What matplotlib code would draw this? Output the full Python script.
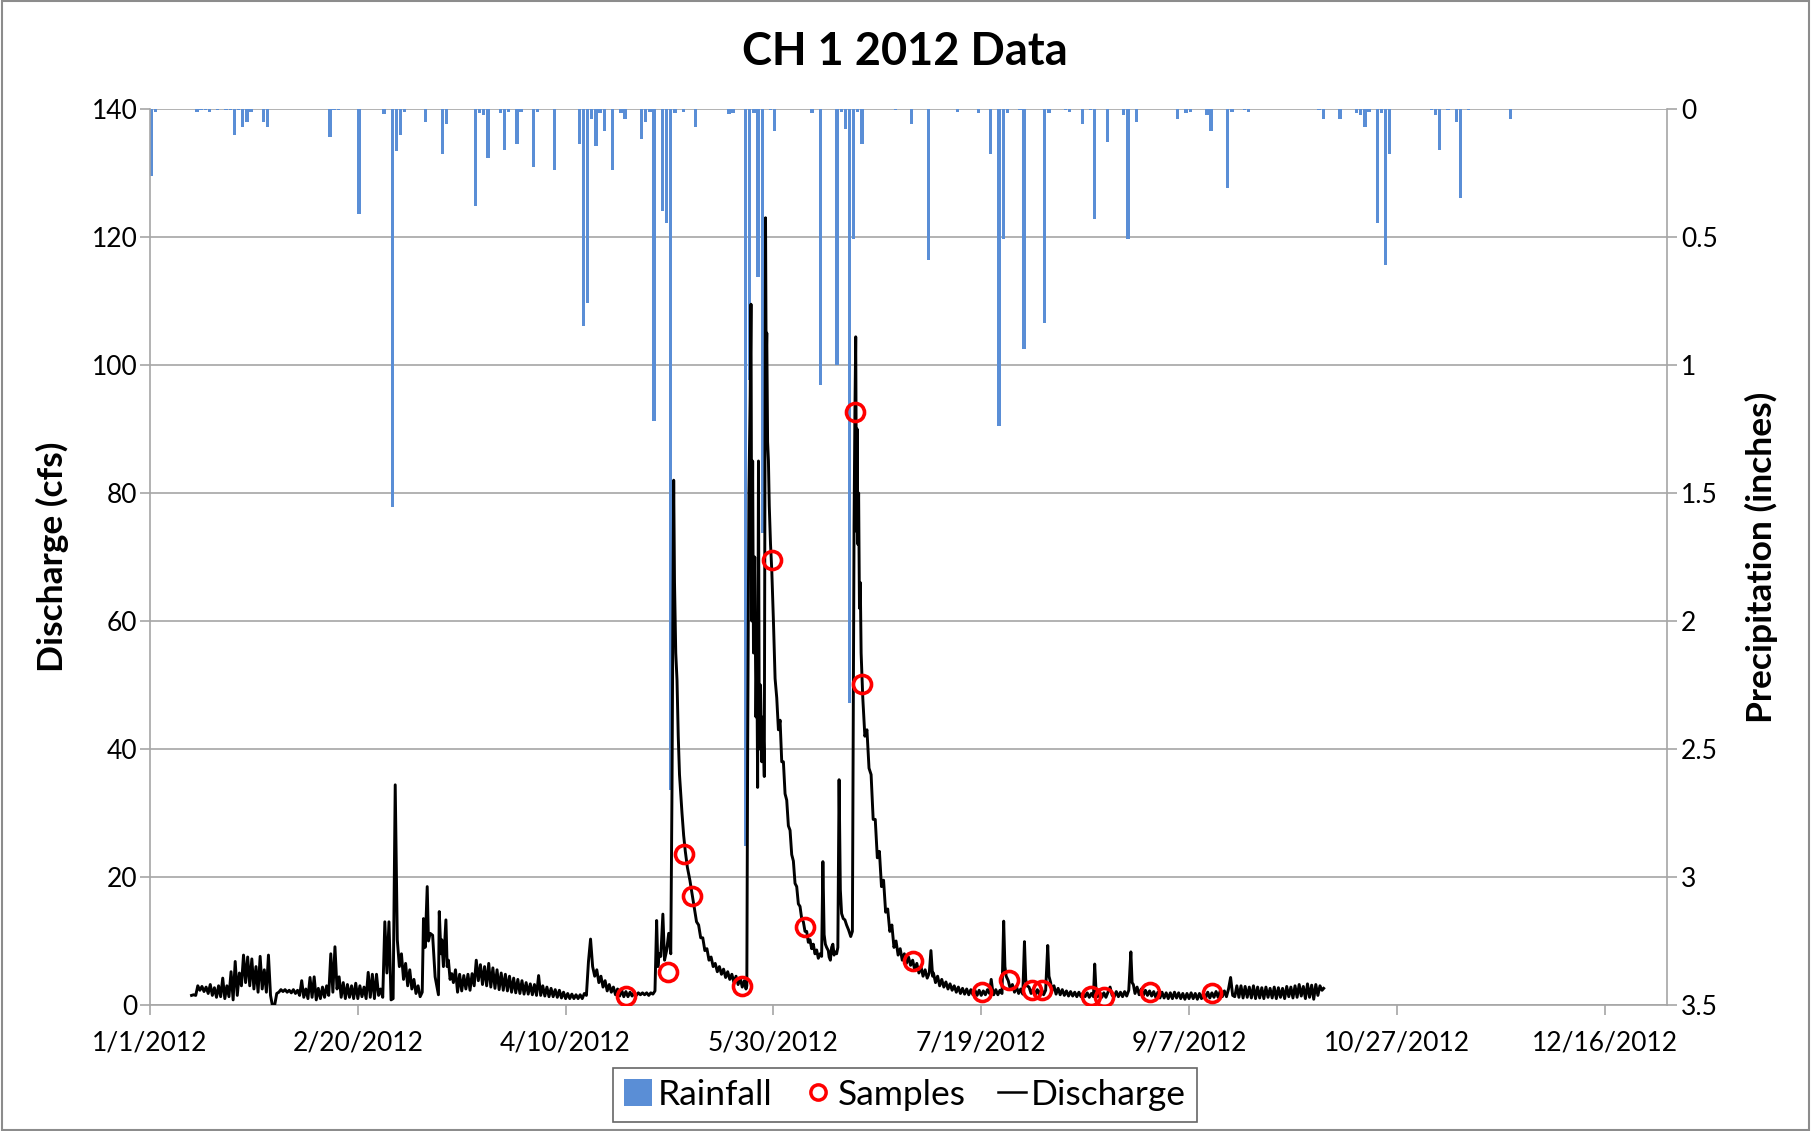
import datetime as dt
import matplotlib
matplotlib.use("Agg")
import matplotlib.pyplot as plt
from matplotlib.patches import Rectangle, Patch
from matplotlib.lines import Line2D

plt.rcParams['font.family'] = ['Lato', 'DejaVu Sans']

# ---------------- data (day 0 = 1/1/2012) ----------------
rain_day = [0, 1, 11, 12, 13, 14, 16, 18, 19, 20, 21, 22, 23, 24, 27, 28, 43, 44, 45, 50,
            56, 58, 59, 60, 61, 66, 70, 71, 78, 79, 80, 81, 84, 85, 86, 88, 89, 92, 93, 97,
            103, 104, 105, 106, 107, 108, 109, 111, 113, 114, 118, 119, 120, 121, 123, 124, 125, 126, 128, 131,
            139, 140, 143, 144, 145, 146, 147, 149, 150, 159, 161, 165, 166, 167, 168, 169, 170, 171, 179, 183,
            187, 194, 199, 202, 204, 205, 206, 209, 210, 215, 216, 220, 221, 224, 226, 227, 230, 234, 235, 237,
            247, 249, 250, 254, 255, 259, 260, 263, 264, 281, 282, 286, 290, 291, 292, 293, 295, 296, 297, 298,
            308, 309, 310, 312, 314, 315, 317, 327]
rain_in = [0.26, 0.01, 0.01, 0.005, 0.005, 0.01, 0.005, 0.005, 0.005, 0.10, 0.005, 0.07, 0.05, 0.01, 0.05, 0.07, 0.11, 0.005, 0.005, 0.41,
           0.02, 1.555, 0.166, 0.10, 0.01, 0.05, 0.176, 0.06, 0.378, 0.015, 0.025, 0.19, 0.015, 0.16, 0.01, 0.137, 0.01, 0.227, 0.01, 0.237,
           0.137, 0.846, 0.758, 0.04, 0.146, 0.015, 0.087, 0.237, 0.015, 0.04, 0.116, 0.05, 0.01, 1.218, 0.40, 0.445, 2.66, 0.015, 0.01, 0.07,
           0.02, 0.015, 2.88, 1.057, 0.015, 0.656, 1.656, 0.005, 0.087, 0.015, 1.077, 1.0, 0.01, 0.078, 2.32, 0.507, 0.01, 0.137, 0.005, 0.057,
           0.589, 0.01, 0.015, 0.176, 1.24, 0.507, 0.015, 0.005, 0.9375, 0.836, 0.015, 0.005, 0.01, 0.057, 0.005, 0.428, 0.129, 0.025, 0.507, 0.05,
           0.04, 0.015, 0.01, 0.025, 0.087, 0.309, 0.01, 0.005, 0.01, 0.005, 0.04, 0.04, 0.015, 0.025, 0.07, 0.01, 0.445, 0.015, 0.608, 0.176,
           0.005, 0.025, 0.16, 0.005, 0.05, 0.348, 0.005, 0.04]

discharge_jan_feb = [
    (10.0, 1.5), (10.5, 1.6), (11.0, 1.5), (11.5, 3.0), (12.0, 2.3), (12.5, 2.9), (13.0, 2.1), (13.5, 2.8),
    (14.0, 1.8), (14.5, 3.2), (15.0, 1.5), (15.5, 2.7), (16.0, 1.2), (16.5, 3.0), (17.0, 1.3), (17.5, 4.2),
    (18.0, 1.0), (18.5, 3.0), (19.0, 1.3), (19.5, 5.2), (20.0, 0.8), (20.5, 6.8), (21.0, 1.5), (21.5, 5.0),
    (22.0, 3.0), (22.5, 7.8), (23.0, 3.5), (23.5, 7.5), (24.0, 3.0), (24.5, 7.2), (25.0, 2.5), (25.5, 6.0),
    (26.0, 2.0), (26.5, 7.6), (27.0, 2.5), (27.5, 5.5), (28.0, 2.0), (28.5, 7.8), (29.0, 1.5), (29.4, 0.1),
    (30.0, 0.0), (30.5, 1.8), (31.0, 2.0), (31.5, 2.4), (32.0, 2.1), (32.5, 2.4), (33.0, 2.0), (33.5, 2.3),
    (34.0, 1.9), (34.5, 2.4), (35.0, 1.8), (35.5, 2.3), (36.0, 1.5), (36.5, 3.8), (37.0, 1.2), (37.5, 2.5),
    (38.0, 1.0), (38.5, 4.3), (39.0, 1.2), (39.5, 4.4), (40.0, 0.8), (40.5, 2.6), (41.0, 1.0), (41.5, 2.8),
    (42.0, 1.2), (42.5, 3.0), (43.0, 1.5), (43.5, 8.0), (44.0, 2.0), (44.5, 9.1), (45.0, 2.5), (45.5, 4.4),
    (46.0, 1.2), (46.5, 3.5), (47.0, 1.0), (47.5, 3.2), (48.0, 1.2), (48.5, 3.0), (49.0, 1.0), (49.5, 3.4),
    (50.0, 1.0), (50.5, 3.0), (51.0, 1.3), (51.5, 2.8), (52.0, 1.0), (52.5, 5.1), (53.0, 1.2), (53.5, 4.8),
    (54.0, 1.0), (54.5, 4.8), (55.0, 1.5), (55.5, 2.5), (56.0, 1.2), (56.5, 13.0), (57.0, 5.0), (57.5, 13.0),
    (58.0, 0.8), (58.5, 1.0), (59.0, 34.4), (59.5, 10.2),
]

discharge_mar_apr = [
    (60.0, 6.0), (60.5, 8.0), (61.0, 4.0), (61.5, 6.5), (62.0, 3.0), (62.5, 5.5), (63.0, 2.5), (63.5, 4.0),
    (64.0, 1.8), (64.5, 3.0), (65.0, 1.3), (65.5, 2.0), (65.8, 13.5), (66.2, 9.0), (66.7, 18.5), (67.0, 10.0),
    (67.4, 11.2), (68.0, 10.9), (68.6, 4.4), (69.4, 1.6), (69.6, 14.6), (70.0, 8.0), (70.2, 10.2), (70.6, 6.0),
    (71.2, 13.3), (71.5, 6.0), (71.8, 7.0), (72.2, 4.0), (72.6, 4.9), (73.0, 3.5), (73.5, 5.5), (74.0, 2.0),
    (74.5, 4.8), (75.0, 2.2), (75.5, 4.6), (76.0, 2.5), (76.5, 4.8), (77.0, 2.3), (77.5, 4.9), (78.0, 3.0),
    (78.5, 7.0), (79.0, 3.8), (79.5, 6.3), (80.0, 3.2), (80.5, 6.0), (81.0, 3.0), (81.5, 6.5), (82.0, 2.8),
    (82.5, 5.8), (83.0, 2.6), (83.5, 5.5), (84.0, 2.4), (84.5, 5.0), (85.0, 2.3), (85.5, 4.8), (86.0, 2.2),
    (86.5, 4.5), (87.0, 2.0), (87.5, 4.2), (88.0, 1.9), (88.5, 4.0), (89.0, 1.8), (89.5, 3.8), (90.0, 1.7),
    (90.5, 3.5), (91.0, 1.7), (91.5, 3.3), (92.0, 1.6), (92.5, 3.2), (93.0, 1.5), (93.5, 4.6), (94.0, 1.5),
    (94.5, 3.0), (95.0, 1.4), (95.5, 2.8), (96.0, 1.3), (96.5, 2.6), (97.0, 1.3), (97.5, 2.4), (98.0, 1.2),
    (98.5, 2.3), (99.0, 1.1), (99.5, 2.0), (100.0, 1.0), (100.5, 1.8), (101.0, 1.0), (101.5, 1.7), (102.0, 1.0),
    (102.5, 1.6), (103.0, 1.0), (103.5, 1.6), (104.0, 1.0), (104.5, 1.8), (105.0, 1.5), (105.5, 6.8), (106.0, 10.3),
    (106.5, 6.0), (107.0, 4.5), (107.5, 5.5), (108.0, 3.5), (108.5, 4.5), (109.0, 2.8), (109.5, 3.8), (110.0, 2.2),
    (110.5, 3.2), (111.0, 2.0), (111.5, 2.8), (112.0, 1.6), (112.5, 2.5), (113.0, 1.4), (113.5, 2.3), (114.0, 1.3),
    (114.5, 2.1), (115.0, 1.3), (115.5, 2.0), (116.0, 1.4), (116.5, 2.0), (117.0, 1.5), (117.5, 1.9), (118.0, 1.6),
    (118.5, 1.9), (119.0, 1.6), (119.5, 1.9), (120.0, 1.5), (120.5, 1.9),
]

discharge_may_jun = [
    (121.0, 1.7), (121.5, 2.2), (121.9, 13.2), (122.2, 6.0), (122.5, 8.0), (122.9, 7.6), (123.4, 14.2), (123.8, 7.0),
    (124.3, 8.5), (124.8, 11.2), (125.3, 8.0), (125.6, 34.0), (125.8, 60.0), (126.0, 82.0), (126.2, 66.0), (126.5, 55.0),
    (126.8, 50.8), (127.1, 42.0), (127.4, 36.0), (127.7, 33.0), (128.0, 30.0), (128.4, 26.5), (128.8, 24.0), (129.3, 21.5),
    (129.9, 19.5), (130.4, 17.5), (131.0, 15.0), (131.5, 13.0), (132.0, 12.5), (132.5, 10.5), (133.0, 10.5), (133.5, 8.5),
    (134.0, 8.8), (134.5, 7.0), (135.0, 7.5), (135.5, 6.0), (136.0, 6.5), (136.5, 5.2), (137.0, 6.0), (137.5, 4.8),
    (138.0, 5.6), (138.5, 4.3), (139.0, 5.2), (139.5, 4.0), (140.0, 4.8), (140.5, 3.5), (141.0, 4.5), (141.5, 3.2),
    (142.0, 4.2), (142.5, 2.8), (143.0, 3.8), (143.4, 2.5), (143.6, 3.0), (143.8, 40.0), (144.1, 80.0), (144.4, 95.0),
    (144.6, 109.5), (144.8, 60.0), (145.0, 85.0), (145.2, 55.0), (145.5, 70.0), (145.8, 45.0), (146.0, 55.0), (146.2, 34.0),
    (146.4, 85.0), (146.6, 40.0), (146.9, 50.0), (147.2, 38.0), (147.5, 45.0), (147.8, 35.7), (148.0, 90.0), (148.1, 123.0),
    (148.25, 100.0), (148.4, 105.0), (148.6, 88.0), (148.8, 85.0), (149.0, 78.0), (149.3, 72.0), (149.6, 68.0), (150.0, 60.0),
    (150.4, 51.0), (150.8, 48.0), (151.2, 43.0), (151.6, 44.5), (152.0, 38.0), (152.4, 38.0), (152.8, 33.0), (153.2, 32.0),
    (153.6, 28.0), (154.0, 27.3), (154.4, 23.5), (154.8, 22.5), (155.2, 19.0), (155.6, 18.5), (156.0, 15.8), (156.4, 15.4),
    (156.8, 13.5), (157.2, 13.0), (157.6, 11.5), (158.0, 11.5), (158.4, 9.8), (158.8, 10.2), (159.2, 8.8), (159.6, 9.5),
    (160.0, 8.0), (160.4, 8.6), (160.8, 7.3), (161.2, 8.0), (161.6, 7.6), (161.9, 22.4), (162.2, 11.0), (162.5, 9.5),
    (162.8, 9.0), (163.2, 8.5), (163.4, 7.5), (163.7, 7.0), (164.0, 9.0), (164.3, 9.5), (164.6, 7.8), (164.8, 8.3),
    (165.2, 8.0), (165.5, 9.0), (165.8, 35.2), (166.1, 18.0), (166.4, 14.3), (166.8, 13.5), (167.2, 13.3), (167.6, 12.5),
    (168.1, 11.7), (168.6, 10.7), (169.0, 11.5), (169.2, 45.0), (169.4, 75.0), (169.6, 92.0), (169.8, 104.4), (170.0, 74.0),
    (170.15, 90.0), (170.3, 72.0), (170.5, 80.0), (170.7, 62.0), (170.9, 66.0), (171.1, 55.0), (171.4, 50.0), (171.5, 48.0),
    (172.0, 42.0), (172.5, 43.0), (173.0, 37.0), (173.5, 36.0), (174.0, 29.0), (174.5, 29.0), (175.0, 23.0), (175.5, 24.0),
    (176.0, 18.5), (176.5, 19.5), (177.0, 14.5), (177.5, 15.0), (178.0, 11.5), (178.5, 12.5), (179.0, 9.0), (179.5, 10.0),
    (180.0, 7.8), (180.5, 8.8), (181.0, 7.0), (181.5, 8.0),
]

discharge_jul_oct = [
    (182.0, 6.5), (182.5, 7.5), (183.0, 6.2), (183.5, 7.0), (184.0, 5.5), (184.5, 6.5), (185.0, 5.0), (185.5, 6.0),
    (186.0, 4.5), (186.5, 5.5), (187.0, 4.2), (187.5, 5.0), (187.9, 8.5), (188.3, 4.5), (188.5, 5.0), (189.0, 3.5),
    (189.5, 4.5), (190.0, 3.0), (190.5, 4.0), (191.0, 2.8), (191.5, 3.6), (192.0, 2.5), (192.5, 3.3), (193.0, 2.3),
    (193.5, 3.0), (194.0, 2.0), (194.5, 2.8), (195.0, 1.8), (195.5, 2.6), (196.0, 1.7), (196.5, 2.5), (197.0, 1.6),
    (197.5, 2.4), (198.0, 1.6), (198.5, 2.3), (199.0, 1.5), (199.5, 2.3), (200.0, 1.5), (200.5, 2.2), (201.0, 1.6),
    (201.5, 2.4), (202.0, 1.8), (202.4, 4.0), (202.8, 2.0), (203.0, 1.6), (203.5, 2.4), (204.0, 1.6), (204.5, 2.3),
    (205.0, 1.8), (205.4, 13.1), (205.7, 6.0), (206.0, 4.5), (206.5, 3.8), (207.0, 2.5), (207.5, 3.2), (208.0, 2.0),
    (208.5, 2.8), (209.0, 1.8), (209.5, 2.5), (210.0, 1.7), (210.4, 9.9), (210.7, 4.0), (211.0, 3.0), (211.5, 2.8),
    (212.0, 1.8), (212.5, 2.5), (213.0, 1.6), (213.5, 2.4), (214.0, 1.6), (214.5, 2.5), (215.0, 1.6), (215.5, 2.3),
    (216.0, 9.3), (216.3, 4.5), (216.7, 3.5), (217.0, 2.2), (217.5, 3.0), (218.0, 1.7), (218.5, 2.6), (219.0, 1.6),
    (219.5, 2.4), (220.0, 1.5), (220.5, 2.2), (221.0, 1.4), (221.5, 2.1), (222.0, 1.4), (222.5, 2.0), (223.0, 1.3),
    (223.5, 2.0), (224.0, 1.3), (224.5, 1.9), (225.0, 1.3), (225.5, 1.9), (226.0, 1.2), (226.5, 1.8), (227.0, 1.3),
    (227.3, 6.4), (227.6, 2.5), (228.0, 1.3), (228.5, 2.0), (229.0, 1.2), (229.5, 1.9), (230.0, 1.2), (230.5, 2.0),
    (231.0, 2.8), (231.5, 1.5), (232.0, 1.3), (232.5, 2.1), (233.0, 1.3), (233.5, 2.0), (234.0, 1.3), (234.5, 2.1),
    (235.0, 1.4), (235.5, 2.3), (236.0, 8.3), (236.3, 3.5), (236.6, 3.2), (237.0, 1.8), (237.5, 2.8), (238.0, 1.6),
    (238.5, 2.5), (239.0, 1.5), (239.5, 2.3), (240.0, 1.5), (240.5, 2.2), (241.0, 1.4), (241.5, 2.1), (242.0, 1.2),
    (242.5, 2.0), (243.0, 1.1), (243.5, 2.0), (244.0, 1.1), (244.5, 1.9), (245.0, 1.0), (245.5, 1.9), (246.0, 1.0),
    (246.5, 2.0), (247.0, 1.1), (247.5, 1.9), (248.0, 1.0), (248.5, 1.8), (249.0, 0.9), (249.5, 1.8), (250.0, 1.0),
    (250.5, 1.9), (251.0, 1.0), (251.5, 1.8), (252.0, 0.9), (252.5, 1.8), (253.0, 1.0), (253.5, 1.9), (254.0, 1.1),
    (254.5, 2.0), (255.0, 1.1), (255.5, 1.9), (256.0, 1.2), (256.5, 2.1), (257.0, 1.2), (257.5, 2.2), (258.0, 1.3),
    (258.5, 2.2), (259.0, 1.3), (259.5, 2.5), (260.0, 4.3), (260.5, 1.5), (261.0, 1.3), (261.5, 3.0), (262.0, 1.2),
    (262.5, 3.0), (263.0, 1.1), (263.5, 2.9), (264.0, 1.2), (264.5, 2.8), (265.0, 1.1), (265.5, 3.0), (266.0, 1.0),
    (266.5, 2.8), (267.0, 1.1), (267.5, 2.7), (268.0, 1.0), (268.5, 2.8), (269.0, 1.2), (269.5, 2.6), (270.0, 1.1),
    (270.5, 2.8), (271.0, 1.0), (271.5, 2.7), (272.0, 1.2), (272.5, 2.6), (273.0, 1.0), (273.5, 2.9), (274.0, 1.3),
    (274.5, 2.8), (275.0, 1.1), (275.5, 3.0), (276.0, 1.2), (276.5, 3.2), (277.0, 1.4), (277.5, 2.9), (278.0, 1.0),
    (278.5, 3.3), (279.0, 1.2), (279.5, 3.1), (280.0, 0.9), (280.5, 3.2), (281.0, 1.5), (281.5, 3.0), (282.0, 2.3),
    (282.4, 2.6),
]

sample_day = [114.6, 124.6, 128.6, 130.5, 142.5, 149.6, 157.6, 169.6, 171.4, 183.6,
              200.2, 206.6, 212.3, 214.7, 226.3, 229.6, 240.5, 255.5]
sample_cfs = [1.4, 5.2, 23.6, 17.1, 3.0, 69.5, 12.2, 92.6, 50.1, 6.9,
              2.1, 3.9, 2.3, 2.4, 1.4, 1.3, 2.0, 1.8]

tick_days = [0, 50, 100, 150, 200, 250, 300, 350]
title = "CH 1 2012 Data"

# ---------------- figure ----------------
W, H = 1811, 1131
fig = plt.figure(figsize=(W / 100, H / 100), dpi=100)
L, R, T, B = 150, 1667, 109, 1005
ax = fig.add_axes([L / W, 1 - B / H, (R - L) / W, (B - T) / H])
ax2 = ax.twinx()
ax.set_zorder(ax2.get_zorder() + 1)
ax.patch.set_visible(False)

grid_c = '#A6A6A6'
rain_c = '#5A8ED6'

# rainfall (right axis, inverted)
ax2.bar([d + 0.3 for d in rain_day], rain_in, width=0.8, color=rain_c, linewidth=0, zorder=2)
ax2.set_ylim(3.5, 0)
ax2.set_yticks([0, 0.5, 1, 1.5, 2, 2.5, 3, 3.5])
ax2.set_yticklabels(['0', '0.5', '1', '1.5', '2', '2.5', '3', '3.5'])
ax2.yaxis.grid(True, color=grid_c, linewidth=1.2, zorder=0)
ax2.set_axisbelow(True)

# discharge (left axis)
pts = discharge_jan_feb + discharge_mar_apr + discharge_may_jun + discharge_jul_oct
ax.plot([p[0] for p in pts], [p[1] for p in pts], color='black', linewidth=2.1, zorder=3)
ax.plot(sample_day, sample_cfs, linestyle='none', marker='o', markersize=13,
        markerfacecolor='none', markeredgecolor='#FF0000', markeredgewidth=2.6, zorder=4)

ax.set_xlim(0, 365)
ax.set_ylim(0, 140)
ax.set_yticks(range(0, 141, 20))
ax.set_xticks(tick_days)
base = dt.date(2012, 1, 1)
labels = []
for d in tick_days:
    x = base + dt.timedelta(days=d)
    labels.append(f"{x.month}/{x.day}/{x.year}")
ax.set_xticklabels(labels)

for a in (ax, ax2):
    for s in a.spines.values():
        s.set_color(grid_c)
        s.set_linewidth(1.2)
ax.spines['right'].set_visible(False)
ax.spines['top'].set_visible(False)
ax2.spines['left'].set_visible(False)
ax2.spines['bottom'].set_visible(False)
ax2.spines['top'].set_visible(False)

tick_fs = 19
ax.tick_params(axis='y', length=7, width=1.2, color=grid_c, labelsize=tick_fs, pad=2)
ax.tick_params(axis='x', length=7, width=1.2, color=grid_c, labelsize=tick_fs, pad=11)
ax2.tick_params(axis='y', length=7, width=1.2, color=grid_c, labelsize=tick_fs, pad=3)

fig.text(52 / W, 1 - 557 / H, 'Discharge (cfs)', rotation=90, ha='center', va='center',
         fontsize=25.5, fontweight='bold')
fig.text(1761 / W, 1 - 557 / H, 'Precipitation (inches)', rotation=90, ha='center', va='center',
         fontsize=25.5, fontweight='bold')
fig.text(905 / W, 1 - 52 / H, title, ha='center', va='center', fontsize=32.5, fontweight='bold')

handles = [Patch(facecolor=rain_c, edgecolor='none'),
           Line2D([], [], linestyle='none', marker='o', markersize=11, markerfacecolor='none',
                  markeredgecolor='#FF0000', markeredgewidth=2.5),
           Line2D([], [], color='black', linewidth=1.8)]
leg = fig.legend(handles, ['Rainfall', 'Samples', 'Discharge'], loc='center',
                 bbox_to_anchor=(905 / W, 1 - 1095 / H), ncol=3, fontsize=25.5, frameon=True,
                 fancybox=False, edgecolor='#404040', handlelength=0.8, handleheight=0.8,
                 handletextpad=0.15, columnspacing=0.9, borderpad=0.3)
leg.get_frame().set_linewidth(1.2)

fig.patches.append(Rectangle((0.001, 0.001), 0.998, 0.998, transform=fig.transFigure,
                             fill=False, edgecolor='#8C8C8C', linewidth=1.5))

fig.savefig('out.png', dpi=100)
